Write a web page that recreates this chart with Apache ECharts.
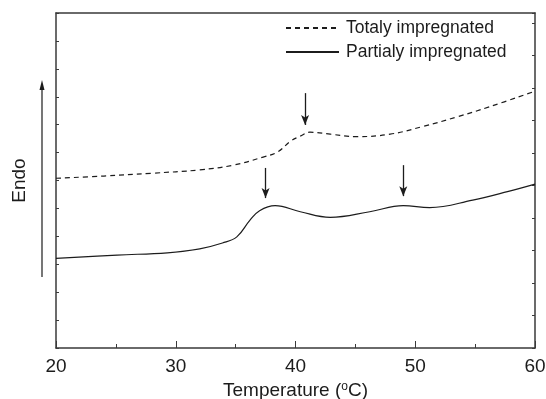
<!DOCTYPE html>
<html>
<head>
<meta charset="utf-8">
<script src="https://cdn.jsdelivr.net/npm/echarts@6/dist/echarts.min.js"></script>
<style>
  html, body { margin: 0; padding: 0; background: #fff; }
  #chart { width: 546px; height: 399px; }
</style>
</head>
<body>
<div id="chart"></div>
<script>
// DSC traces (temperature in °C, heat flow in arbitrary units)
const totalT = [20, 24, 28, 32, 34.8, 37.3, 38.5, 39.6, 40.4, 41.2, 42.9, 45.1, 47.9, 50.6, 53.5, 56.2, 60];
const totalV = [6.08, 6.16, 6.26, 6.38, 6.55, 6.84, 7.02, 7.41, 7.59, 7.73, 7.66, 7.57, 7.66, 7.93, 8.28, 8.64, 9.20];

const partialT = [20, 25.1, 29.3, 32, 33.9, 35.1, 36.2, 37.0, 38.3, 40.4, 42.9, 46.2, 49.0, 51.2, 54.8, 57.7, 60];
const partialV = [3.21, 3.33, 3.41, 3.55, 3.76, 3.98, 4.58, 4.92, 5.10, 4.88, 4.68, 4.88, 5.10, 5.03, 5.30, 5.60, 5.87];

const seriesNames = ['Totaly impregnated', 'Partialy impregnated'];
const xTicks = [20, 30, 40, 50, 60];

// peak arrows: [temperature, top value, tip value]
const totalArrows = [[40.8, 9.13, 7.99]];
const partialArrows = [[37.5, 6.45, 5.37], [49.0, 6.55, 5.44]];

const ink = '#1c1c1c';
const frame = '#3a3a3a';
const font = 'Liberation Sans, Arial, sans-serif';

const pairs = (xs, ys) => xs.map((x, i) => [x, ys[i]]);
const arrowLines = list => list.map(a => [
    { coord: [a[0], a[1]] },
    { coord: [a[0], a[2]] }
]);

const chart = echarts.init(document.getElementById('chart'));

const frameLine = { show: true, onZero: false, lineStyle: { color: frame, width: 1.5 } };

const option = {
    animation: false,
    backgroundColor: '#fff',
    grid: { left: 56, right: 11, top: 13, bottom: 51, outerBoundsMode: 'none', containLabel: false },
    legend: {
        orient: 'vertical',
        left: 280,
        top: 14,
        itemWidth: 53,
        itemHeight: 14,
        itemGap: 6,
        data: seriesNames,
        itemStyle: { opacity: 0 },
        textStyle: { fontFamily: font, fontSize: 17.5, color: ink, padding: [0, 0, 0, 2] }
    },
    xAxis: [{
        type: 'value',
        min: 20,
        max: 60,
        interval: 10,
        position: 'bottom',
        name: '{a|Temperature (}{s|o}{a|C)}',
        nameLocation: 'middle',
        nameGap: 26,
        nameTextStyle: {
            rich: {
                a: { fontFamily: font, fontSize: 19, color: ink },
                s: { fontFamily: font, fontSize: 12, color: ink, verticalAlign: 'top', padding: [0, 0, 8, 0] }
            }
        },
        axisLine: frameLine,
        axisTick: { show: true, inside: true, length: 7, lineStyle: { color: frame } },
        minorTick: { show: true, splitNumber: 2, length: 4, lineStyle: { color: frame } },
        axisLabel: {
            fontFamily: font, fontSize: 19, color: ink, margin: 9,
            formatter: v => xTicks.indexOf(v) >= 0 ? String(v) : ''
        },
        splitLine: { show: false }
    }, {
        type: 'value',
        min: 20,
        max: 60,
        position: 'top',
        axisLine: frameLine,
        axisTick: { show: false },
        axisLabel: { show: false },
        splitLine: { show: false }
    }],
    yAxis: [{
        type: 'value',
        min: 0,
        max: 12,
        interval: 1,
        position: 'left',
        name: 'Endo',
        nameLocation: 'middle',
        nameGap: 27,
        nameRotate: 90,
        nameTextStyle: { fontFamily: font, fontSize: 19, color: ink },
        axisLine: frameLine,
        axisTick: { show: true, inside: true, length: 3, lineStyle: { color: frame } },
        axisLabel: { show: false },
        splitLine: { show: false }
    }, {
        type: 'value',
        min: 0,
        max: 10.3,
        interval: 1,
        position: 'right',
        axisLine: frameLine,
        axisTick: { show: true, inside: true, length: 3, lineStyle: { color: frame } },
        axisLabel: { show: false },
        splitLine: { show: false }
    }],
    series: [{
        name: seriesNames[0],
        type: 'line',
        data: pairs(totalT, totalV),
        smooth: 0.4,
        symbol: 'none',
        itemStyle: { color: ink },
        lineStyle: { color: ink, width: 1.2, type: [5, 4] },
        markLine: {
            silent: true,
            symbol: ['none', 'arrow'],
            symbolSize: [6, 10],
            label: { show: false },
            lineStyle: { color: ink, width: 1.3, type: 'solid' },
            data: arrowLines(totalArrows)
        }
    }, {
        name: seriesNames[1],
        type: 'line',
        data: pairs(partialT, partialV),
        smooth: 0.4,
        symbol: 'none',
        itemStyle: { color: ink },
        lineStyle: { color: ink, width: 1.2 },
        markLine: {
            silent: true,
            symbol: ['none', 'arrow'],
            symbolSize: [6, 10],
            label: { show: false },
            lineStyle: { color: ink, width: 1.3, type: 'solid' },
            data: arrowLines(partialArrows)
        }
    }],
    // the "Endo" direction arrow to the left of the frame
    graphic: [{
        type: 'line',
        shape: { x1: 42, y1: 277, x2: 42, y2: 88 },
        style: { stroke: ink, lineWidth: 1.2 }
    }, {
        type: 'polygon',
        shape: { points: [[42, 80], [39.5, 90], [44.5, 90]] },
        style: { fill: ink }
    }]
};

chart.setOption(option);
</script>
</body>
</html>
